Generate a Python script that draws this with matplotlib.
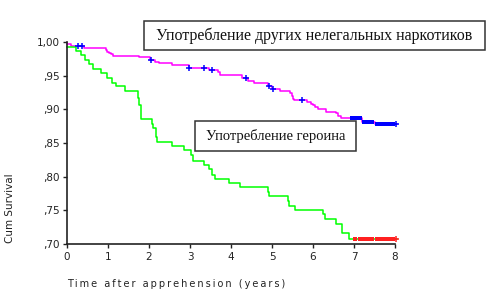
import matplotlib.pyplot as plt
from matplotlib.patches import Rectangle

# другие нелегальные наркотики (magenta)
other_t = [0, 0.10, 0.41, 0.67, 0.95, 0.98, 1.02, 1.07, 1.11, 1.76, 2.02, 2.14, 2.24,
           2.57, 2.98, 3.46, 3.69, 3.73, 4.03, 4.26, 4.42, 4.57, 4.90, 4.99, 5.20,
           5.44, 5.48, 5.50, 5.54, 5.85, 5.95, 5.99, 6.05, 6.13, 6.32, 6.56, 6.60,
           6.68, 7.20, 7.50, 8.05]
other_s = [0.9966, 0.994, 0.9916, 0.9906, 0.9886, 0.9856, 0.9837, 0.9817, 0.979,
           0.9772, 0.974, 0.970, 0.969, 0.9654, 0.961, 0.958, 0.955, 0.9514, 0.9505,
           0.947, 0.9425, 0.9386, 0.9346, 0.9297, 0.927, 0.9237, 0.920, 0.9158,
           0.9134, 0.911, 0.908, 0.906, 0.903, 0.900, 0.896, 0.894, 0.8905, 0.8866,
           0.8816, 0.878, 0.878]
other_cens = [0.28, 0.37, 2.04, 2.98, 3.35, 3.54, 4.36, 4.93, 5.03, 5.72]
other_late = [6.94, 7.03, 7.10, 7.15, 7.24, 7.35, 7.45, 7.55, 7.65, 7.76, 7.86, 7.96]

# героин (green)
her_t = [0, 0.22, 0.33, 0.43, 0.54, 0.64, 0.84, 0.98, 1.10, 1.20, 1.41, 1.72, 1.76,
         1.81, 2.07, 2.10, 2.17, 2.20, 2.57, 2.86, 3.02, 3.08, 3.33, 3.46, 3.54,
         3.62, 3.94, 4.21, 4.91, 4.93, 5.40, 5.42, 5.57, 6.25, 6.30, 6.55, 6.71,
         6.89, 8.05]
her_s = [0.993, 0.987, 0.980, 0.973, 0.967, 0.960, 0.954, 0.946, 0.939, 0.934,
         0.927, 0.917, 0.906, 0.886, 0.878, 0.872, 0.859, 0.851, 0.845, 0.839,
         0.832, 0.824, 0.818, 0.811, 0.803, 0.797, 0.790, 0.784, 0.777, 0.771,
         0.764, 0.757, 0.750, 0.744, 0.737, 0.729, 0.7165, 0.708, 0.708]
her_late = [7.03, 7.14, 7.24, 7.35, 7.45, 7.56, 7.65, 7.76, 7.86, 7.96]

yticks = [0.70, 0.75, 0.80, 0.85, 0.90, 0.95, 1.00]
ylabels = [',70', ',75', ',80', ',85', ',90', ',95', '1,00']


def step_value(ts, ss, x):
    v = ss[0]
    for t, s in zip(ts, ss):
        if t <= x:
            v = s
    return v


fig = plt.figure(figsize=(4.98, 2.98), dpi=100)
ax = fig.add_axes([67 / 498, 54 / 298, 328 / 498, 202 / 298])

ax.step(other_t, other_s, where='post', color='#ff00ff', lw=1.1, clip_on=False)
ax.step(her_t, her_s, where='post', color='#00ff00', lw=1.1, clip_on=False)

ax.plot(other_cens, [step_value(other_t, other_s, x) for x in other_cens], '+',
        color='#0000ff', ms=5, mew=1.1, clip_on=False)
ax.plot(other_late, [step_value(other_t, other_s, x) for x in other_late], 's',
        color='#0000ff', ms=2.5, mew=0, clip_on=False)
ax.plot([8.02], [other_s[-1]], '+', color='#0000ff', ms=5, mew=1.1, clip_on=False)

ax.plot(her_late, [her_s[-1]] * len(her_late), 's', color='#ff2020', ms=2.5, mew=0,
        clip_on=False)
ax.plot([8.02], [her_s[-1]], '+', color='#ff2020', ms=5, mew=1.1, clip_on=False)

ax.set_xlim(0, 8)
ax.set_ylim(0.70, 1.00)
ax.set_xticks(range(9))
ax.set_yticks(yticks)
ax.set_yticklabels(ylabels)
ax.tick_params(labelsize=7.5, length=3, width=1, colors='#222222', pad=2.5)
for side in ['top', 'right']:
    ax.spines[side].set_visible(False)
for side in ['left', 'bottom']:
    ax.spines[side].set_linewidth(1.2)
    ax.spines[side].set_color('#222222')

fig.text(10 / 498, 1 - 208 / 298, 'Cum Survival', rotation=90, fontsize=7.5,
         ha='center', va='center', color='#222222')
fig.text(67 / 498, 1 - 284 / 298,
         '\u2009'.join('Time after apprehension (years)'), fontsize=7,
         ha='left', va='center', color='#222222')

# подписи в рамках
for (x0, y0, w, h), label, fs in [((144, 21, 341, 29), 'Употребление других нелегальных наркотиков', 11.5),
                                  ((195, 121, 161, 30), 'Употребление героина', 10.5)]:
    fig.patches.append(Rectangle((x0 / 498, 1 - (y0 + h) / 298), w / 498, h / 298,
                                 transform=fig.transFigure, fill=True, fc='white',
                                 ec='#333333', lw=1.1))
    fig.text((x0 + w / 2) / 498, 1 - (y0 + h / 2) / 298, label, family='Liberation Serif',
             fontsize=fs, ha='center', va='center', color='#111111')

fig.savefig('out.png', dpi=100)
